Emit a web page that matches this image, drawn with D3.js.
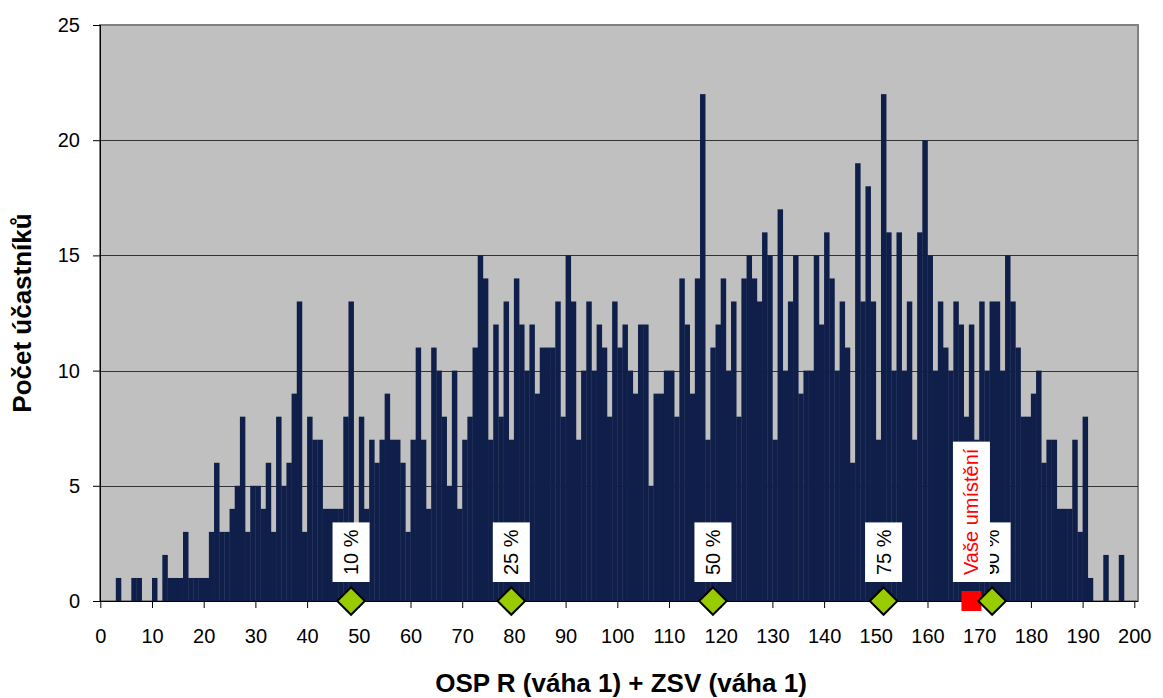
<!DOCTYPE html>
<html>
<head>
<meta charset="utf-8">
<script src="https://cdn.jsdelivr.net/npm/d3@7/dist/d3.min.js"></script>
<style>
  body { margin: 0; background: #fff; }
  svg { display: block; font-family: "Liberation Sans", Arial, sans-serif; }
</style>
</head>
<body>
<svg width="1163" height="698"></svg>
<script>

// counts of participants per score 0..200
var scores = d3.range(0, 201)
var counts = [
  0,0,0,1,0,0,1,1,0,0,
  1,0,2,1,1,1,3,1,1,1,
  1,3,6,3,3,4,5,8,3,5,
  5,4,6,3,8,5,6,9,13,3,
  8,7,7,4,4,4,4,8,13,3,
  8,4,7,6,7,9,7,7,6,3,
  7,11,7,4,11,10,8,5,10,4,
  7,8,11,15,14,7,12,8,13,7,
  14,12,10,12,9,11,11,11,13,8,
  15,13,7,10,13,10,12,11,8,13,
  11,12,10,9,12,12,5,9,9,10,
  10,8,14,12,9,14,22,7,11,12,
  14,10,13,8,14,15,14,13,16,15,
  7,17,10,13,15,9,10,10,15,12,
  16,14,10,13,11,6,19,13,18,13,
  7,22,16,10,16,10,13,7,16,20,
  15,10,13,11,10,13,12,8,12,7,
  13,10,13,13,10,15,13,11,8,8,
  9,10,6,7,7,4,4,4,7,3,
  8,1,0,0,2,0,0,2,0,0,
  0
]

var percentile_labels = ["10 %", "25 %", "50 %", "75 %", "90 %"]
var percentile_values = [48, 79, 118, 151, 172]

var you_label = "Vaše umístění"
var you_value = 168

var x_ticks = d3.range(0, 201, 10)
var y_ticks = [0, 5, 10, 15, 20, 25]

var x_title = "OSP R (váha 1) + ZSV (váha 1)"
var y_title = "Počet účastníků"

var svg = d3.select("svg")

var pLeft = 100, pRight = 1138, pTop = 25, pBottom = 601

var x = d3.scaleLinear().domain([0, 200]).range([100.3, 1134.3])
var y = d3.scaleLinear().domain([0, 25]).range([pBottom, pTop])

// plot area
svg.append("rect")
  .attr("x", pLeft).attr("y", pTop)
  .attr("width", pRight - pLeft).attr("height", pBottom - pTop)
  .style("fill", "#c0c0c0")
  .style("stroke", "#808080")
  .style("stroke-width", 2)

// gridlines
svg.selectAll(".grid").data(y_ticks.slice(1, -1)).enter().append("line")
  .attr("class", "grid")
  .attr("x1", pLeft).attr("x2", pRight)
  .attr("y1", function(d){ return Math.round(y(d)) + 0.5 })
  .attr("y2", function(d){ return Math.round(y(d)) + 0.5 })
  .style("stroke", "#333")
  .style("stroke-width", 1)

// bars
var data = scores.map(function(s, i){ return {score: s, count: counts[i]} })

svg.selectAll(".bar").data(data.filter(function(d){ return d.count > 0 })).enter().append("rect")
  .attr("class", "bar")
  .attr("x", function(d){ return x(d.score) })
  .attr("width", function(d){ return x(d.score + 1) - x(d.score) + 0.3 })
  .attr("y", function(d){ return y(d.count) })
  .attr("height", function(d){ return y(0) - y(d.count) })
  .style("fill", "#0f1f4a")

// axes
var xAxis = svg.append("g")
  .attr("transform", "translate(0," + pBottom + ")")
  .call(d3.axisBottom(x).tickValues(x_ticks).tickSize(7).tickPadding(21))
xAxis.select(".domain").attr("d", "M" + pLeft + ",0.5H" + pRight).style("stroke", "#000")
xAxis.selectAll("text").style("font-size", "20px").style("fill", "#000")

var yAxis = svg.append("g")
  .attr("transform", "translate(" + pLeft + ",0)")
  .call(d3.axisLeft(y).tickValues(y_ticks).tickSize(7).tickPadding(13))
yAxis.select(".domain").attr("d", "M0.5," + pTop + "V" + pBottom).style("stroke", "#000")
yAxis.selectAll("text").style("font-size", "20px").style("fill", "#000")

// percentile labels and markers
function addLabel(text, value, color) {
  var g = svg.append("g")
    .attr("transform", "translate(" + x(value + 0.5) + "," + (y(0) - 19) + ") rotate(-90)")
  var t = g.append("text")
    .attr("x", 7)
    .attr("dy", "0.35em")
    .style("font-size", "20px")
    .style("fill", color)
    .text(text)
  var w = t.node().getComputedTextLength()
  g.insert("rect", "text")
    .attr("x", 0).attr("y", -18.5)
    .attr("width", w + 14).attr("height", 37)
    .style("fill", "#fff")
}

percentile_values.forEach(function(v, i){
  addLabel(percentile_labels[i], v, "#000")
})
addLabel(you_label, you_value, "#ff0000")

svg.append("path")
  .attr("d", d3.symbol(d3.symbolSquare, 400)())
  .attr("transform", "translate(" + x(you_value + 0.5) + "," + y(0) + ")")
  .style("fill", "#ff0000")

svg.selectAll(".pct").data(percentile_values).enter().append("path")
  .attr("class", "pct")
  .attr("d", d3.symbol(d3.symbolSquare, 380)())
  .attr("transform", function(d){ return "translate(" + x(d + 0.5) + "," + y(0) + ") rotate(45)" })
  .style("fill", "#99cc00")
  .style("stroke", "#000")
  .style("stroke-width", 2)

// axis titles
svg.append("text")
  .attr("x", 621).attr("y", 692)
  .attr("text-anchor", "middle")
  .style("font-size", "26px").style("font-weight", "bold")
  .text(x_title)

svg.append("text")
  .attr("transform", "translate(31," + ((pTop + pBottom) / 2) + ") rotate(-90)")
  .attr("text-anchor", "middle")
  .style("font-size", "26px").style("font-weight", "bold")
  .text(y_title)

</script>
</body>
</html>
